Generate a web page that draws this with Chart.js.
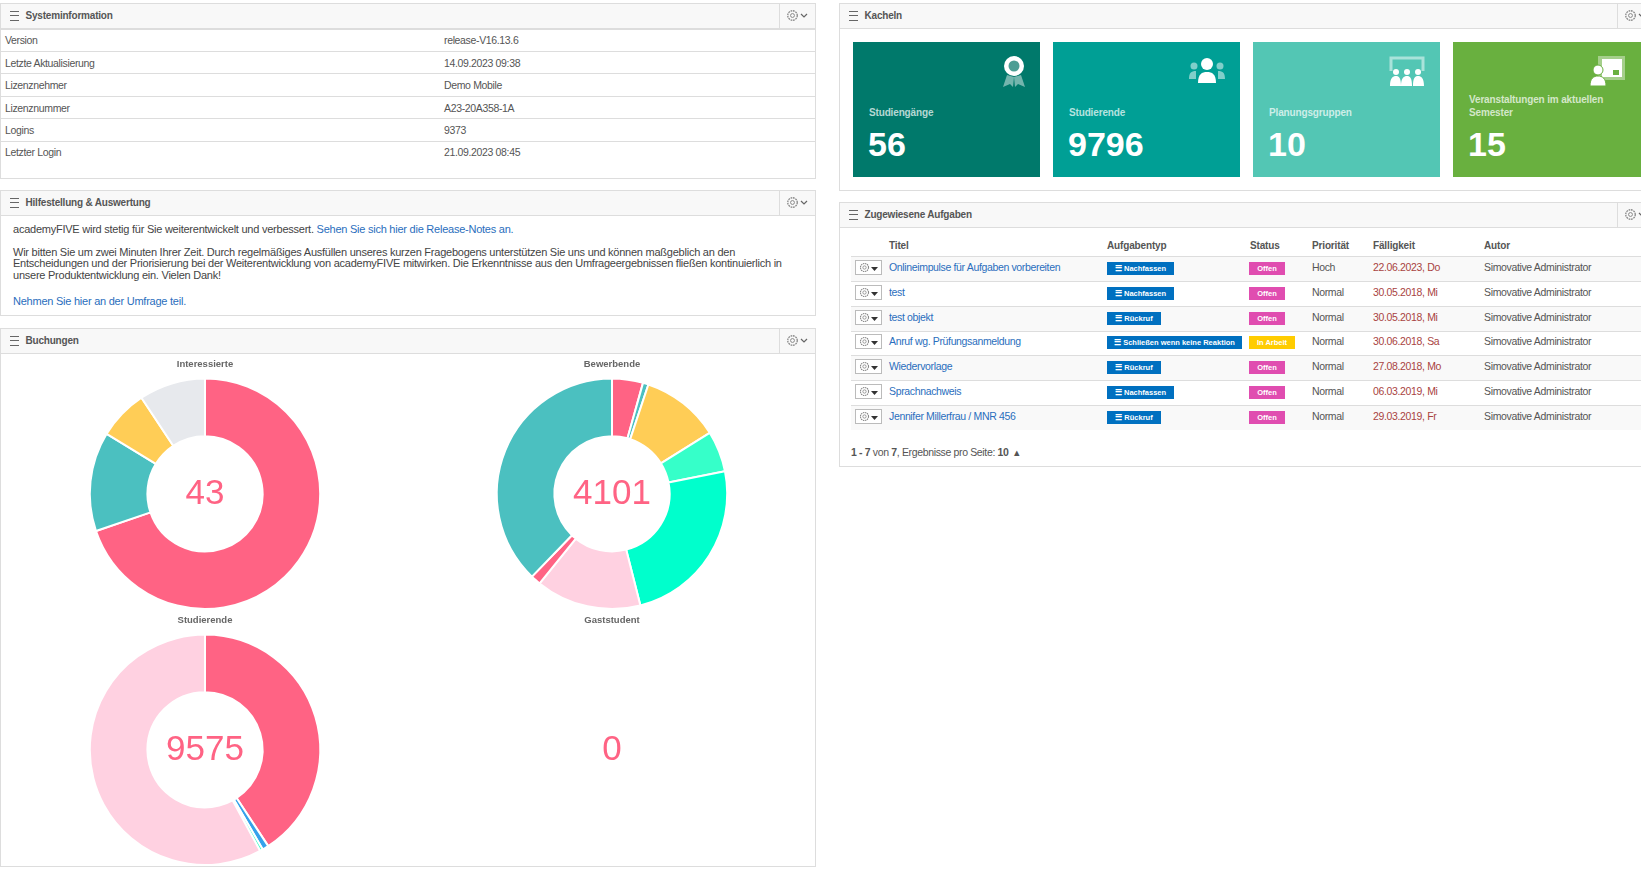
<!DOCTYPE html>
<html lang="de">
<head>
<meta charset="utf-8">
<title>Dashboard</title>
<script src="https://cdn.jsdelivr.net/npm/chart.js@4"></script>
<style>
html,body{margin:0;padding:0;background:#fff;width:1641px;height:870px;overflow:hidden;font-family:"Liberation Sans",Arial,sans-serif;font-size:10.5px;color:#555}
.abs,.panel,.t{position:absolute}
.panel{border:1px solid #ddd;background:#fff;box-sizing:border-box}
.burger{position:absolute;width:9px;height:8px;border-top:1px solid #666;border-bottom:1px solid #666}
.burger:after{content:"";position:absolute;left:0;right:0;top:3px;border-top:1px solid #666}
.t{white-space:nowrap;line-height:12px;letter-spacing:-.35px}
.link{color:#2a6ebd}
.sep{position:absolute;height:1px;background:#ddd}
.tile{position:absolute;top:42px;height:135px;color:#fff}
.tile .lbl{position:absolute;left:16px;font-weight:bold;font-size:10px;letter-spacing:-.15px;color:rgba(255,255,255,.72);white-space:nowrap;line-height:13px}
.tile .num{position:absolute;left:15px;top:84px;font-size:34px;font-weight:bold;line-height:36px;color:#fff}
.tile svg{position:absolute;right:14px;top:13px}
.badge{position:absolute;height:13px;line-height:13px;color:#fff;font-size:7.5px;font-weight:bold;text-align:center;white-space:nowrap}
.btn{position:absolute;left:855px;width:27px;height:15px;border:1px solid #bbb;box-sizing:border-box;background:#fff}
canvas{position:absolute}
</style>
</head>
<body>
<div class="panel" style="left:0;top:3px;width:816px;height:176px"></div>
<div class="panel" style="left:0;top:190px;width:816px;height:126px"></div>
<div class="panel" style="left:0;top:328px;width:816px;height:539px"></div>
<div class="panel" style="left:839px;top:3px;width:810px;height:188px"></div>
<div class="panel" style="left:839px;top:202px;width:810px;height:265px"></div>
<div id="page"></div>
<canvas id="chartInteressierte" width="408" height="256" style="left:1px;top:354px"></canvas>
<canvas id="chartBewerbende" width="408" height="256" style="left:408px;top:354px"></canvas>
<canvas id="chartStudierende" width="408" height="256" style="left:1px;top:610px"></canvas>
<canvas id="chartGaststudent" width="408" height="256" style="left:408px;top:610px"></canvas>

<script>
// Werte
const interessierteWerte = [30, 6, 3, 4];
const interessierteFarben = ['#ff6384', '#4bc0c0', '#ffcd56', '#e7e9ed'];
const bewerbendeWerte = [178, 32, 451, 236, 991, 606, 58, 1549];
const bewerbendeFarben = ['#ff6384', '#4bc0c0', '#ffcd56', '#36ffc9', '#00ffcc', '#ffd1e1', '#ff6384', '#4bc0c0'];
const studierendeWerte = [3902, 85, 40, 5548];
const studierendeFarben = ['#ff6384', '#36a2eb', '#36ffc9', '#ffd1e1'];
const gaststudentWerte = [0];
const gaststudentFarben = ['#ff6384'];

const sysLabels = ['Version', 'Letzte Aktualisierung', 'Lizenznehmer', 'Lizenznummer', 'Logins', 'Letzter Login'];
const sysWerte = ['release-V16.13.6', '14.09.2023 09:38', 'Demo Mobile', 'A23-20A358-1A', '9373', '21.09.2023 08:45'];

const kachelLabels = ['Studiengänge', 'Studierende', 'Planungsgruppen', 'Veranstaltungen im aktuellen<br>Semester'];
const kachelWerte = ['56', '9796', '10', '15'];
const kachelFarben = ['#00796b', '#009f95', '#53c6b4', '#69b03f'];

const spalten = ['Titel', 'Aufgabentyp', 'Status', 'Priorität', 'Fälligkeit', 'Autor'];
const titel = ['Onlineimpulse für Aufgaben vorbereiten', 'test', 'test objekt', 'Anruf wg. Prüfungsanmeldung', 'Wiedervorlage', 'Sprachnachweis', 'Jennifer Millerfrau / MNR 456'];
const typen = ['Nachfassen', 'Nachfassen', 'Rückruf', 'Schließen wenn keine Reaktion', 'Rückruf', 'Nachfassen', 'Rückruf'];
const status = ['Offen', 'Offen', 'Offen', 'In Arbeit', 'Offen', 'Offen', 'Offen'];
const prioritaet = ['Hoch', 'Normal', 'Normal', 'Normal', 'Normal', 'Normal', 'Normal'];
const faelligkeit = ['22.06.2023, Do', '30.05.2018, Mi', '30.05.2018, Mi', '30.06.2018, Sa', '27.08.2018, Mo', '06.03.2019, Mi', '29.03.2019, Fr'];

const page = document.getElementById('page');
let html = '';

function text(x, y, s, style) {
    html += `<div class="t" style="left:${x}px;top:${y - 6.5}px;${style || ''}">${s}</div>`;
}
function gear(x, y, s) {
    html += `<svg class="abs" style="left:${x}px;top:${y}px" width="${s}" height="${s}" viewBox="0 0 12 12"><circle cx="6" cy="6" r="4.4" fill="none" stroke="#888" stroke-width="1.2" stroke-dasharray="1.6 .7"/><circle cx="6" cy="6" r="1.8" fill="none" stroke="#888" stroke-width=".9"/></svg>`;
}
function kopf(x, y, w, titelText, gearX) {
    html += `<div class="abs" style="left:${x + 1}px;top:${y + 1}px;width:${w - 2}px;height:24px;background:#f8f8f8;border-bottom:1px solid #ddd"></div>`;
    html += `<div class="burger" style="left:${x + 10}px;top:${y + 8}px"></div>`;
    text(x + 25.5, y + 13.5, titelText, 'font-weight:bold;color:#555;font-size:10px;letter-spacing:-.2px');
    html += `<div class="abs" style="left:${gearX}px;top:${y + 1}px;height:24px;width:1px;background:#ddd"></div>`;
    gear(gearX + 7, y + 6, 13);
    html += `<svg class="abs" style="left:${gearX + 21}px;top:${y + 10}px" width="8" height="6" viewBox="0 0 8 6"><path d="M1 1l3 3 3-3" fill="none" stroke="#666" stroke-width="1.2"/></svg>`;
}

// Systeminformation
kopf(0, 3, 816, 'Systeminformation', 779);
html += '<div class="sep" style="left:1px;width:814px;top:28px;height:2px"></div>';
[51, 73, 96, 118, 141].forEach(y => { html += `<div class="sep" style="left:1px;width:814px;top:${y}px"></div>`; });
[40, 63, 85, 108, 130, 152].forEach((y, i) => {
    text(5, y, sysLabels[i]);
    text(444, y, sysWerte[i]);
});

// Hilfestellung
const hilfeStil = 'font-size:11px;letter-spacing:-.24px;color:#444';
kopf(0, 190, 816, 'Hilfestellung &amp; Auswertung', 779);
text(13, 229, 'academyFIVE wird stetig für Sie weiterentwickelt und verbessert. <span class="link">Sehen Sie sich hier die Release-Notes an.</span>', hilfeStil);
text(13, 252, 'Wir bitten Sie um zwei Minuten Ihrer Zeit. Durch regelmäßiges Ausfüllen unseres kurzen Fragebogens unterstützen Sie uns und können maßgeblich an den', hilfeStil);
text(13, 263, 'Entscheidungen und der Priorisierung bei der Weiterentwicklung von academyFIVE mitwirken. Die Erkenntnisse aus den Umfrageergebnissen fließen kontinuierlich in', hilfeStil);
text(13, 275, 'unsere Produktentwicklung ein. Vielen Dank!', hilfeStil);
text(13, 301, '<span class="link">Nehmen Sie hier an der Umfrage teil.</span>', hilfeStil);

// Buchungen
kopf(0, 328, 816, 'Buchungen', 779);

// Kacheln
kopf(839, 3, 810, 'Kacheln', 1617);
const kachelX = [853, 1053, 1253, 1453];
const kachelIcons = [
    '<circle cx="19" cy="11" r="10" fill="#fff"/><circle cx="19" cy="11" r="5.5" fill="#4d9e94"/><path d="M12 20l-4 12 7-3 3 3 1-10zM26 20l4 12-7-3-3 3-1-10z" fill="#fff" opacity=".45"/>',
    '<circle cx="19" cy="9" r="6" fill="#fff"/><path d="M10 28c0-9 4-11 9-11s9 2 9 11z" fill="#fff"/><circle cx="6" cy="11" r="3.5" fill="#fff" opacity=".5"/><circle cx="32" cy="11" r="3.5" fill="#fff" opacity=".5"/><path d="M1 24c0-6 2-8 7-8v8zM37 24c0-6-2-8-7-8v8z" fill="#fff" opacity=".5"/>',
    '<path d="M3 16V3h32v13" fill="none" stroke="#fff" stroke-width="3" opacity=".5"/><g fill="#fff"><circle cx="8" cy="17" r="3"/><circle cx="19" cy="17" r="3"/><circle cx="30" cy="17" r="3"/><path d="M2 31c0-8 3-10 6-10s5 2 5 10zM13 31c0-8 3-10 6-10s5 2 5 10zM25 31c0-8 2-10 5-10s6 2 6 10z"/></g>',
    '<rect x="10" y="1" width="27" height="24" fill="#fff" opacity=".4"/><rect x="14" y="4" width="20" height="18" fill="#fff"/><rect x="25" y="15" width="6" height="5" fill="#69b03f"/><circle cx="10" cy="15" r="5" fill="#fff" stroke="#69b03f"/><path d="M2 31c0-8 4-10 8-10s8 2 8 10z" fill="#fff" stroke="#69b03f"/>'
];
const kachelIconRechts = [7, 14, 14, 17];
kachelX.forEach((x, i) => {
    const zwei = i === 3;
    html += `<div class="tile" style="left:${x}px;width:${i === 3 ? 190 : 187}px;background:${kachelFarben[i]}">
        <svg width="38" height="32" viewBox="0 0 38 32" style="right:${kachelIconRechts[i]}px">${kachelIcons[i]}</svg>
        <div class="lbl" style="top:${zwei ? 51 : 64}px">${kachelLabels[i]}</div>
        <div class="num">${kachelWerte[i]}</div></div>`;
});

// Zugewiesene Aufgaben
kopf(839, 202, 810, 'Zugewiesene Aufgaben', 1617);
const spaltenX = [889, 1107, 1250, 1312, 1373, 1484];
const zeilenOben = [256, 281, 306, 331, 355, 380, 405];
const zeilenUnten = [281, 306, 331, 355, 380, 405, 430];
const mitteY = [268, 293, 318, 342, 367, 392, 417];
spalten.forEach((s, i) => text(spaltenX[i], 246.5, s, 'font-weight:bold;color:#555;font-size:10px;letter-spacing:-.15px'));
titel.forEach((t, i) => {
    if (i % 2 === 0) html += `<div class="abs" style="left:851px;width:790px;top:${zeilenOben[i]}px;height:${zeilenUnten[i] - zeilenOben[i]}px;background:#f9f9f9"></div>`;
});
[256, 281, 306, 331, 355, 380, 405].forEach(y => { html += `<div class="sep" style="left:851px;width:790px;top:${y}px"></div>`; });
titel.forEach((t, i) => {
    const y = mitteY[i];
    html += `<div class="btn" style="top:${y - 8}px"></div>`;
    gear(859, y - 6, 11);
    html += `<svg class="abs" style="left:871px;top:${y - 1}px" width="7" height="4" viewBox="0 0 7 4"><path d="M0 0h7L3.5 4z" fill="#333"/></svg>`;
    text(889, y - 0.5, t, 'color:#2a6ebd');
    const breite = typen[i] === 'Nachfassen' ? 67 : (typen[i] === 'Rückruf' ? 54 : 135);
    html += `<div class="badge" style="left:1107px;top:${y - 6}px;width:${breite}px;background:#0070c0">☰ ${typen[i]}</div>`;
    const offen = status[i] === 'Offen';
    html += `<div class="badge" style="left:1249px;top:${y - 6}px;width:${offen ? 36 : 46}px;background:${offen ? '#e04db0' : '#ffcc00'}">${status[i]}</div>`;
    text(1312, y - 0.5, prioritaet[i]);
    text(1373, y - 0.5, faelligkeit[i], 'color:#a94442');
    text(1484, y - 0.5, 'Simovative Administrator');
});
text(851, 452, '<b>1 - 7</b> von <b>7</b>, Ergebnisse pro Seite: <b>10</b> &nbsp;&#9652;');

page.innerHTML = html;

// Zahl in der Mitte des Rings
const mittelText = {
    id: 'mittelText',
    afterDraw(chart, args, opts) {
        const c = chart.ctx, a = chart.chartArea;
        c.save();
        c.font = '35px "Liberation Sans"';
        c.fillStyle = '#ff6384';
        c.textAlign = 'center';
        c.textBaseline = 'middle';
        c.fillText(opts.wert, (a.left + a.right) / 2, (a.top + a.bottom) / 2 + 1);
        c.restore();
    }
};

function ring(id, ueberschrift, werte, farben, summe) {
    return new Chart(document.getElementById(id), {
        type: 'doughnut',
        data: {
            datasets: [{ data: werte, backgroundColor: farben, borderColor: '#fff', borderWidth: 2 }]
        },
        options: {
            responsive: false,
            animation: false,
            cutout: '50%',
            layout: { padding: { bottom: 0 } },
            plugins: {
                legend: { display: false },
                tooltip: { enabled: false },
                title: {
                    display: true,
                    text: ueberschrift,
                    color: '#666',
                    font: { family: '"Liberation Sans"', size: 9.5, weight: 'bold' },
                    padding: { top: 5, bottom: 7.2 }
                },
                mittelText: { wert: summe }
            }
        },
        plugins: [mittelText]
    });
}

document.addEventListener('DOMContentLoaded', () => {
    ring('chartInteressierte', 'Interessierte', interessierteWerte, interessierteFarben, '43');
    ring('chartBewerbende', 'Bewerbende', bewerbendeWerte, bewerbendeFarben, '4101');
    ring('chartStudierende', 'Studierende', studierendeWerte, studierendeFarben, '9575');
    ring('chartGaststudent', 'Gaststudent', gaststudentWerte, gaststudentFarben, '0');
});
</script>
</body>
</html>
